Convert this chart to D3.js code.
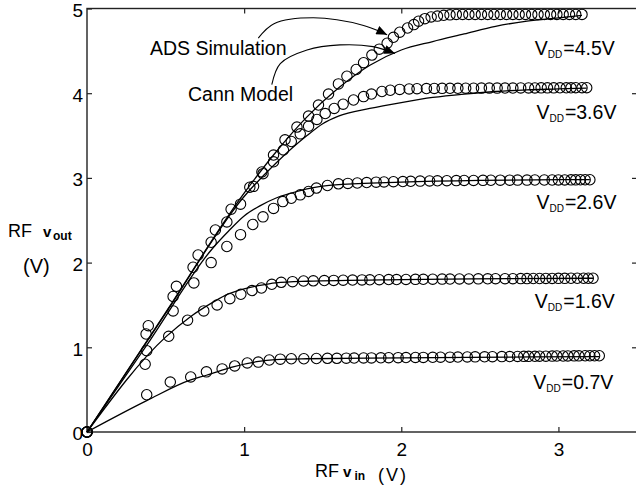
<!DOCTYPE html>
<html>
<head>
<meta charset="utf-8">
<script src="https://cdn.jsdelivr.net/npm/d3@7"></script>
<style>
  body { margin: 0; background: #fff; }
  svg text { font-family: "Liberation Sans", Arial, sans-serif; fill: #000; }
</style>
</head>
<body>
<div id="chart"></div>
<script>
// ******* DATA *******
// ADS simulation points (circles), [vin, vout]
const ads07 = [[0,0],[0.38,0.44],[0.53,0.59],[0.66,0.65],[0.76,0.71],[0.86,0.745],[0.94,0.78],[1.02,0.815],[1.09,0.825],[1.16,0.85],
  [1.23,0.86],[1.30,0.865],[1.38,0.865],[1.46,0.868],[1.53,0.87],[1.59,0.87],[1.65,0.872],[1.70,0.873],[1.76,0.874],[1.81,0.875],
  [1.87,0.876],[1.92,0.877],[1.98,0.878],[2.03,0.879],[2.09,0.88],[2.14,0.881],[2.20,0.882],[2.25,0.883],[2.31,0.884],[2.36,0.885],
  [2.42,0.886],[2.47,0.887],[2.53,0.888],[2.58,0.889],[2.64,0.89],[2.69,0.891],[2.74,0.892],[2.78,0.893],[2.81,0.893],[2.85,0.894],
  [2.88,0.895],[2.92,0.895],[2.96,0.896],[2.99,0.897],[3.03,0.897],[3.06,0.898],[3.10,0.899],[3.13,0.899],[3.17,0.90],[3.20,0.90],
  [3.23,0.90],[3.26,0.90]];
const ads16 = [[0,0],[0.37,0.80],[0.52,1.13],[0.64,1.32],[0.743,1.43],[0.828,1.50],[0.909,1.574],[0.979,1.626],[1.05,1.67],[1.11,1.70],
  [1.176,1.744],[1.236,1.767],[1.308,1.775],[1.378,1.783],[1.44,1.785],[1.51,1.788],[1.57,1.79],[1.63,1.792],[1.69,1.794],[1.75,1.796],
  [1.80,1.797],[1.86,1.798],[1.92,1.80],[1.97,1.80],[2.03,1.801],[2.09,1.802],[2.14,1.803],[2.20,1.804],[2.26,1.805],[2.31,1.806],
  [2.37,1.807],[2.43,1.807],[2.49,1.808],[2.55,1.809],[2.60,1.81],[2.66,1.81],[2.71,1.81],[2.76,1.811],[2.80,1.811],[2.84,1.812],
  [2.88,1.812],[2.92,1.813],[2.96,1.813],[3.00,1.814],[3.04,1.814],[3.08,1.815],[3.12,1.815],[3.16,1.815],[3.19,1.815],[3.22,1.815]];
const ads26 = [[0,0],[0.38,0.96],[0.548,1.43],[0.68,1.76],[0.79,2.00],[0.89,2.19],[0.977,2.33],[1.055,2.45],[1.12,2.54],[1.187,2.64],
  [1.246,2.72],[1.30,2.76],[1.357,2.80],[1.41,2.84],[1.46,2.88],[1.53,2.91],[1.60,2.93],[1.66,2.935],[1.72,2.94],[1.78,2.945],
  [1.84,2.95],[1.89,2.952],[1.95,2.955],[2.01,2.957],[2.06,2.96],[2.12,2.962],[2.18,2.964],[2.23,2.966],[2.29,2.967],[2.35,2.968],
  [2.40,2.97],[2.46,2.97],[2.52,2.971],[2.57,2.972],[2.63,2.973],[2.69,2.973],[2.74,2.974],[2.80,2.974],[2.85,2.975],[2.91,2.975],
  [2.96,2.975],[3.00,2.976],[3.04,2.976],[3.08,2.977],[3.11,2.977],[3.14,2.978],[3.17,2.978],[3.20,2.978]];
const ads36 = [[0,0],[0.376,1.157],[0.548,1.60],[0.675,1.945],[0.79,2.24],[0.89,2.48],[0.977,2.69],[1.06,2.90],[1.12,3.05],[1.187,3.19],
  [1.25,3.33],[1.30,3.43],[1.357,3.52],[1.41,3.61],[1.463,3.69],[1.516,3.76],[1.573,3.82],[1.63,3.87],[1.696,3.92],[1.76,3.96],
  [1.81,3.99],[1.877,4.02],[1.93,4.035],[1.99,4.045],[2.05,4.05],[2.10,4.053],[2.16,4.055],[2.21,4.056],[2.26,4.057],[2.31,4.058],
  [2.36,4.058],[2.41,4.059],[2.46,4.059],[2.51,4.06],[2.56,4.06],[2.61,4.06],[2.66,4.061],[2.71,4.061],[2.76,4.062],[2.81,4.062],
  [2.85,4.062],[2.89,4.063],[2.93,4.063],[2.97,4.063],[3.01,4.064],[3.05,4.064],[3.08,4.064],[3.11,4.065],[3.15,4.065],[3.18,4.065]];
const ads45 = [[0,0],[0.39,1.255],[0.569,1.72],[0.707,2.09],[0.817,2.385],[0.917,2.63],[1.036,2.89],[1.113,3.07],[1.187,3.27],[1.26,3.45],
  [1.336,3.60],[1.41,3.73],[1.473,3.86],[1.537,3.99],[1.60,4.11],[1.654,4.20],[1.713,4.28],[1.76,4.36],[1.813,4.45],[1.86,4.52],
  [1.91,4.59],[1.95,4.66],[1.99,4.72],[2.04,4.77],[2.08,4.81],[2.11,4.85],[2.15,4.88],[2.19,4.90],[2.23,4.91],[2.27,4.92],
  [2.31,4.925],[2.35,4.93],[2.39,4.93],[2.43,4.93],[2.47,4.93],[2.51,4.93],[2.55,4.93],[2.59,4.93],[2.63,4.93],[2.67,4.93],
  [2.71,4.93],[2.75,4.93],[2.79,4.93],[2.83,4.93],[2.87,4.93],[2.91,4.93],[2.95,4.93],[2.99,4.93],[3.03,4.93],[3.07,4.93],
  [3.11,4.93],[3.15,4.93]];

// Cann model curves (lines)
const cann07 = [[0,0],[0.38,0.37],[0.66,0.615],[0.76,0.67],[0.93,0.77],[1.08,0.83],[1.2,0.855],[1.4,0.865],[2.0,0.875],[2.7,0.885],[3.26,0.89]];
const cann16 = [[0,0],[0.5,1.12],[0.65,1.35],[0.8,1.53],[0.9,1.63],[1.0,1.69],[1.1,1.73],[1.2,1.76],[1.4,1.78],[2.0,1.80],[2.7,1.81],[3.22,1.815]];
const cann26 = [[0,0],[0.4,1.08],[0.8,2.17],[0.9,2.37],[1.0,2.55],[1.1,2.67],[1.2,2.76],[1.3,2.82],[1.4,2.87],[1.6,2.92],[2.0,2.95],[2.5,2.97],[3.2,2.98]];
const cann36 = [[0,0],[0.5,1.40],[1.0,2.78],[1.2,3.17],[1.4,3.50],[1.5,3.64],[1.6,3.73],[1.8,3.82],[2.0,3.89],[2.2,3.95],[2.4,3.99],[2.6,4.02],[2.8,4.04],[3.0,4.05],[3.18,4.06]];
const cann45 = [[0,0],[0.5,1.41],[1.0,2.82],[1.2,3.30],[1.4,3.72],[1.6,4.06],[1.8,4.33],[2.0,4.51],[2.2,4.61],[2.4,4.70],[2.6,4.79],[2.8,4.85],[3.0,4.89],[3.15,4.92]];

// V_DD labels and their anchor (vin, vout) for the text baseline
const vddLabels = ["4.5V", "3.6V", "2.6V", "1.6V", "0.7V"];
const vddLabelPos = [[2.85, 4.45], [2.86, 3.695], [2.86, 2.635], [2.85, 1.465], [2.84, 0.51]];

// annotation arrows (vin, vout)
const adsArrow = [[1.09, 4.65], [1.19, 4.82], [1.44, 4.89], [1.76, 4.80], [1.91, 4.69]];
const cannArrow = [[1.176, 4.10], [1.23, 4.35], [1.40, 4.51], [1.61, 4.57], [1.82, 4.55], [1.96, 4.47]];

const xTicks = [0, 1, 2, 3];
const yTicks = [0, 1, 2, 3, 4, 5];

// ******* LAYOUT *******
const width = 636, height = 487;
const plot = { left: 87, right: 637, top: 8.5, bottom: 432 };

const svg = d3.select("#chart").append("svg")
    .attr("width", width)
    .attr("height", height);

const x = d3.scaleLinear().domain([0, 3.5]).range([plot.left, plot.right]);
const y = d3.scaleLinear().domain([0, 5]).range([plot.bottom, plot.top]);

// ******* AXES *******
const axisColor = "#222";

// frame
svg.append("rect")
    .attr("x", plot.left).attr("y", plot.top)
    .attr("width", plot.right - plot.left).attr("height", plot.bottom - plot.top)
    .attr("fill", "none").attr("stroke", axisColor).attr("stroke-width", 1.4);

function styleAxis(g) {
    g.select(".domain").remove();
    g.selectAll(".tick line").attr("stroke", axisColor).attr("stroke-width", 1.2);
    g.selectAll(".tick text").attr("font-size", 19).attr("font-family", "Liberation Sans, Arial, sans-serif").attr("fill", "#000");
}

svg.append("g")
    .attr("transform", `translate(0,${plot.bottom})`)
    .call(d3.axisBottom(x).tickValues(xTicks).tickFormat(d3.format("d")).tickSizeInner(-5).tickSizeOuter(0).tickPadding(11))
    .call(styleAxis);

svg.append("g")
    .attr("transform", `translate(0,${plot.top})`)
    .call(d3.axisTop(x).tickValues(xTicks.slice(1)).tickFormat("").tickSizeInner(-5).tickSizeOuter(0))
    .call(styleAxis);

svg.append("g")
    .attr("transform", `translate(${plot.left},0)`)
    .call(d3.axisLeft(y).tickValues(yTicks).tickFormat(d3.format("d")).tickSizeInner(-5).tickSizeOuter(0).tickPadding(4))
    .call(styleAxis)
    .call(g => g.selectAll(".tick text").attr("dy", "0.42em"));

svg.append("g")
    .attr("transform", `translate(${plot.right},0)`)
    .call(d3.axisRight(y).tickValues(yTicks.slice(1, 5)).tickFormat("").tickSizeInner(-5).tickSizeOuter(0))
    .call(styleAxis);

// ******* CURVES *******
const line = d3.line()
    .x(d => x(d[0]))
    .y(d => y(d[1]))
    .curve(d3.curveMonotoneX);

const modelSeries = [cann07, cann16, cann26, cann36, cann45];
const adsSeries = [ads07, ads16, ads26, ads36, ads45];

svg.append("g").selectAll("path")
    .data(modelSeries)
    .join("path")
    .attr("d", line)
    .attr("fill", "none")
    .attr("stroke", "#000")
    .attr("stroke-width", 1.3);

svg.append("g").selectAll("g")
    .data(adsSeries)
    .join("g")
    .selectAll("circle")
    .data(d => d)
    .join("circle")
    .attr("cx", d => x(d[0]))
    .attr("cy", d => y(d[1]))
    .attr("r", 5.2)
    .attr("fill", "none")
    .attr("stroke", "#000")
    .attr("stroke-width", 1.1);

// ******* ANNOTATIONS *******
svg.append("defs").append("marker")
    .attr("id", "arrow")
    .attr("viewBox", "0 0 12 10")
    .attr("refX", 12).attr("refY", 5)
    .attr("markerWidth", 12).attr("markerHeight", 9)
    .attr("markerUnits", "userSpaceOnUse")
    .attr("orient", "auto")
    .append("path")
    .attr("d", "M0,0 L12,5 L0,10 Z")
    .attr("fill", "#000");

const arrowLine = d3.line()
    .x(d => x(d[0]))
    .y(d => y(d[1]))
    .curve(d3.curveCatmullRom);

[adsArrow, cannArrow].forEach(pts => {
    svg.append("path")
        .attr("d", arrowLine(pts))
        .attr("fill", "none")
        .attr("stroke", "#000")
        .attr("stroke-width", 1.1)
        .attr("marker-end", "url(#arrow)");
});

svg.append("text")
    .attr("x", 150).attr("y", 55)
    .attr("font-size", 19.5)
    .text("ADS Simulation");

svg.append("text")
    .attr("x", 188).attr("y", 101)
    .attr("font-size", 19.5)
    .text("Cann Model");

// V_DD labels
vddLabels.forEach((lab, i) => {
    const t = svg.append("text")
        .attr("x", x(vddLabelPos[i][0]))
        .attr("y", y(vddLabelPos[i][1]))
        .attr("font-size", 19.5);
    t.append("tspan").text("V");
    t.append("tspan").attr("font-size", 10).attr("dy", 3).text("DD");
    t.append("tspan").attr("dy", -3).attr("dx", 1).text("=" + lab);
});

// ******* AXIS TITLES *******
// y title
svg.append("text").attr("x", 8).attr("y", 237).attr("font-size", 18).text("RF");
svg.append("text").attr("x", 43).attr("y", 237).attr("font-size", 15).attr("font-weight", "bold").text("v");
svg.append("text").attr("x", 53).attr("y", 240).attr("font-size", 12).attr("font-weight", "bold").text("out");
svg.append("text").attr("x", 23).attr("y", 273).attr("font-size", 20).text("(V)");

// x title
svg.append("text").attr("x", 315).attr("y", 477).attr("font-size", 18).text("RF");
svg.append("text").attr("x", 343).attr("y", 477).attr("font-size", 15).attr("font-weight", "bold").text("v");
svg.append("text").attr("x", 354.5).attr("y", 480).attr("font-size", 12).attr("font-weight", "bold").text("in");
svg.append("text").attr("x", 378).attr("y", 481).attr("font-size", 18).attr("letter-spacing", 2).text("(V)");
</script>
</body>
</html>
